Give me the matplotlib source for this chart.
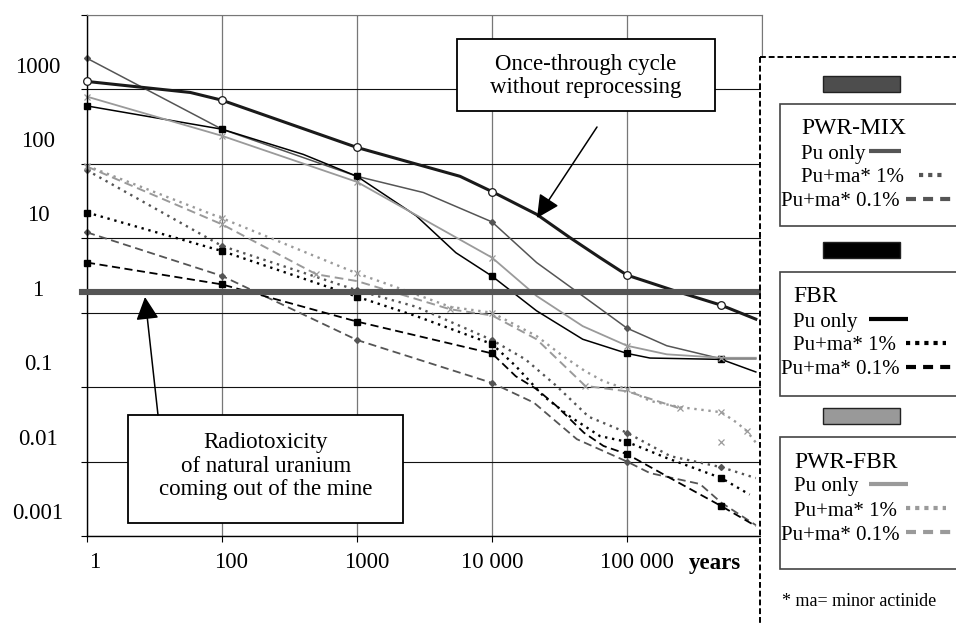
import numpy as np
import matplotlib
matplotlib.use("Agg")
import matplotlib.pyplot as plt
from matplotlib.patches import Rectangle
from matplotlib.ticker import NullLocator
from matplotlib.transforms import blended_transform_factory, offset_copy

plt.rcParams['font.family'] = ['Liberation Serif', 'DejaVu Serif']

# ---- data (relative radiotoxicity vs. years) ----
main_years = [1, 100, 1000, 10000, 100000, 500000]

once_t = [1, 34, 100, 1000, 5800, 10000, 21400, 37800, 63000, 100000, 220000, 500000, 900000]
once_v = [640, 455, 358, 83, 34, 21.2, 10.5, 5.1, 2.75, 1.6, 1.0, 0.63, 0.41]

mix_pu_t = [1, 100, 1000, 3100, 10000, 21400, 47000, 100000, 197000, 500000, 900000]
mix_pu_v = [1310, 146, 34, 20.6, 8.3, 2.36, 0.84, 0.31, 0.18, 0.12, 0.12]
mix_1_t = [1, 100, 1000, 2750, 10000, 17700, 30000, 52000, 100000, 210000, 500000, 900000]
mix_1_v = [41, 3.94, 1.0, 0.6, 0.215, 0.118, 0.052, 0.020, 0.0122, 0.0059, 0.0042, 0.003]
mix_01_t = [1, 100, 1000, 10000, 20400, 42500, 100000, 148000, 347000, 500000, 900000]
mix_01_v = [6.0, 1.56, 0.215, 0.057, 0.031, 0.010, 0.005, 0.0035, 0.0025, 0.0014, 0.0007]

fbr_pu_t = [1, 100, 400, 1000, 2750, 5400, 10000, 21400, 47000, 100000, 148000, 500000, 900000]
fbr_pu_v = [300, 146, 67, 34, 10, 3.2, 1.55, 0.53, 0.22, 0.142, 0.123, 0.118, 0.080]
fbr_1_t = [1, 100, 1000, 2750, 10000, 15000, 24000, 38000, 63000, 100000, 196000, 500000, 810000]
fbr_1_v = [11.1, 3.37, 0.82, 0.45, 0.19, 0.096, 0.038, 0.020, 0.011, 0.0092, 0.0056, 0.003, 0.0018]
fbr_01_t = [1, 100, 1000, 10000, 15000, 21400, 30000, 48000, 67000, 100000, 196000, 500000, 900000]
fbr_01_v = [2.36, 1.2, 0.38, 0.142, 0.070, 0.047, 0.028, 0.0122, 0.0081, 0.0063, 0.0032, 0.00126, 0.00068]

pf_pu_t = [1, 100, 1000, 10000, 21400, 47000, 100000, 197000, 500000, 900000]
pf_pu_v = [400, 119, 28.6, 2.75, 0.84, 0.33, 0.18, 0.138, 0.124, 0.124]
pf_1_t = [1, 100, 1000, 2100, 4900, 10000, 21400, 33500, 49000, 67000, 100000,
          148000, 245000, 500000, 650000, 770000, 900000]
pf_1_v = [47, 9.3, 1.69, 1.05, 0.60, 0.50, 0.243, 0.131, 0.082, 0.060, 0.047,
          0.0326, 0.027, 0.023, 0.0167, 0.0129, 0.009]
pf_1_marks = [1, 100, 1000, 10000, 100000, 500000, 770000]
pf_01_t = [1, 100, 500, 1000, 4900, 10000, 21400, 49000, 100000, 245000]
pf_01_v = [46, 7.7, 1.64, 1.33, 0.556, 0.46, 0.22, 0.052, 0.044, 0.026]
pf_01_marks = [1, 100, 500, 4900, 49000, 245000]
pf_01_extra_t = [500000]
pf_01_extra_v = [0.0092]

uranium_level = 0.95

x_ticks = [1, 100, 1000, 10000, 100000]
x_labels = ['1', '100', '1000', '10 000', '100 000']
y_labels_at = [1000, 100, 10, 1, 0.1, 0.01, 0.001]
y_labels = ['1000', '100', '10', '1', '0.1', '0.01', '0.001']

MIX = '#555555'
FBR = '#000000'
PF = '#9a9a9a'


# x axis: 1..100 squeezed into one grid cell, then one cell per decade
def fwd(t):
    lt = np.log10(np.clip(np.asarray(t, dtype=float), 1e-12, None))
    return np.where(lt < 2, lt / 2, lt - 1)


def inv(p):
    p = np.asarray(p, dtype=float)
    return np.where(p < 1, 10 ** (2 * p), 10 ** (p + 1))


def marks(ts, wanted):
    return [i for i, t in enumerate(ts) if t in wanted]


fig = plt.figure(figsize=(9.56, 6.24), dpi=100)
ax = fig.add_axes([87 / 956, 88 / 624, 675 / 956, 521 / 624])
ax.set_xscale('function', functions=(fwd, inv))
ax.set_yscale('log')
ax.set_xlim(1, 1e6)
ax.set_ylim(5e-4, 5e3)

ax.set_xticks(x_ticks + [1e6])
ax.set_yticks([5 * 10.0 ** k for k in range(-4, 4)])
ax.xaxis.set_minor_locator(NullLocator())
ax.yaxis.set_minor_locator(NullLocator())
ax.tick_params(labelbottom=False, labelleft=False, direction='out', length=4, width=0.8)
ax.grid(axis='x', color='#777777', lw=0.9)
ax.grid(axis='y', color='#111111', lw=0.8)
ax.set_axisbelow(True)
for s in ['top', 'right']:
    ax.spines[s].set_color('#777777')
ax.spines['left'].set_linewidth(1.0)
ax.spines['bottom'].set_linewidth(1.0)

dot = (0, (1, 2))
dash = (0, (4.5, 2.5))

ax.plot(once_t, once_v, color='#1a1a1a', lw=2.2, marker='o', ms=5.5, mfc='white',
        mec='#1a1a1a', mew=0.9, markevery=marks(once_t, main_years), clip_on=False, zorder=4)

ax.plot(mix_pu_t, mix_pu_v, color=MIX, lw=1.1, marker='D', ms=3,
        markevery=marks(mix_pu_t, main_years), clip_on=False)
ax.plot(mix_1_t, mix_1_v, color=MIX, lw=1.7, ls=dot, marker='D', ms=3,
        markevery=marks(mix_1_t, main_years), clip_on=False)
ax.plot(mix_01_t, mix_01_v, color=MIX, lw=1.3, ls=dash, marker='D', ms=3,
        markevery=marks(mix_01_t, main_years[:5]), clip_on=False)

ax.plot(fbr_pu_t, fbr_pu_v, color=FBR, lw=1.1, marker='s', ms=5,
        markevery=marks(fbr_pu_t, main_years), clip_on=False)
ax.plot(fbr_1_t, fbr_1_v, color=FBR, lw=1.7, ls=dot, marker='s', ms=5,
        markevery=marks(fbr_1_t, main_years), clip_on=False)
ax.plot(fbr_01_t, fbr_01_v, color=FBR, lw=1.3, ls=dash, marker='s', ms=5,
        markevery=marks(fbr_01_t, main_years), clip_on=False)

ax.plot(pf_pu_t, pf_pu_v, color=PF, lw=1.3, marker='x', ms=5, mew=0.9,
        markevery=marks(pf_pu_t, main_years), clip_on=False)
ax.plot(pf_1_t, pf_1_v, color=PF, lw=1.7, ls=dot, marker='x', ms=5, mew=0.9,
        markevery=marks(pf_1_t, pf_1_marks), clip_on=False)
ax.plot(pf_01_t, pf_01_v, color=PF, lw=1.4, ls=dash, marker='x', ms=5, mew=0.9,
        markevery=marks(pf_01_t, pf_01_marks), clip_on=False)
ax.plot(pf_01_extra_t, pf_01_extra_v, ls='none', color=PF, marker='x', ms=5, mew=0.9)

ax.axhline(uranium_level, xmin=-0.008, xmax=1, color='#555555', lw=4.4,
           clip_on=False, zorder=5)

# axis labels
ty = blended_transform_factory(ax.transAxes, ax.transData)
for v, lab in zip(y_labels_at, y_labels):
    ax.text(-49 / 675, v, lab, transform=ty, ha='center', va='center', fontsize=16.5)

tx = blended_transform_factory(ax.transData, ax.transAxes)
x_shift = [8, 9, 10, 0, 10]
for t, lab, dx in zip(x_ticks, x_labels, x_shift):
    ax.text(t, -27 / 521, lab, transform=offset_copy(tx, fig=fig, x=dx, units='dots'),
            ha='center', va='center', fontsize=16.5)
ax.text((715 - 87) / 675, -27 / 521, 'years', transform=ax.transAxes, ha='center',
        va='center', fontsize=16.5, fontweight='bold')

# ---- overlay in pixel coordinates: call-outs and legend panel ----
lay = fig.add_axes([0, 0, 1, 1], zorder=10)
lay.set_xlim(0, 956)
lay.set_ylim(624, 0)
lay.axis('off')

head = '-|>,head_length=0.7,head_width=0.35'

lay.add_patch(Rectangle((457, 39), 258, 72, fc='white', ec='black', lw=1.3))
lay.text(586, 76, 'Once-through cycle\nwithout reprocessing', ha='center', va='center',
         fontsize=16.5, linespacing=1.1)
lay.annotate('', xy=(537, 218), xytext=(597, 127),
             arrowprops=dict(arrowstyle=head, mutation_scale=20, color='black', lw=1.1,
                             shrinkA=0, shrinkB=0))

lay.add_patch(Rectangle((128, 415), 275, 108, fc='white', ec='black', lw=1.3))
lay.text(266, 466, 'Radiotoxicity\nof natural uranium\ncoming out of the mine',
         ha='center', va='center', fontsize=16.5, linespacing=1.15)
lay.annotate('', xy=(145, 297), xytext=(158, 415),
             arrowprops=dict(arrowstyle=head, mutation_scale=20, color='black', lw=1.1,
                             shrinkA=0, shrinkB=0))

# dashed legend panel
lay.add_patch(Rectangle((761, 58), 200, 570, fc='white', ec='none'))
lay.plot([760, 760], [57, 624], color='black', lw=1.4, dashes=(3, 1.5))
lay.plot([760, 956], [57, 57], color='black', lw=1.4, dashes=(3, 1.5))

groups = [
    ('PWR-MIX', MIX, '#4d4d4d', 76, 104, 122, 801),
    ('FBR', FBR, '#000000', 242, 272, 124, 793),
    ('PWR-FBR', PF, '#999999', 408, 437, 132, 794),
]
for name, col, swatch, sy, by, bh, tx0 in groups:
    lay.add_patch(Rectangle((823, sy), 77, 16, fc=swatch, ec='#222222', lw=1))
    lay.add_patch(Rectangle((780, by), 190, bh, fc='white', ec='#444444', lw=1.2))
    lay.text(tx0, by + 25, name, ha='left', va='center', fontsize=17)
    lay.text(tx0, by + 50, 'Pu only', ha='left', va='center', fontsize=15)
    lay.text(tx0, by + 74, 'Pu+ma* 1%', ha='left', va='center', fontsize=15)
    lay.text(781, by + 98, 'Pu+ma* 0.1%', ha='left', va='center', fontsize=15)
    solid_x0 = 869
    solid_x1 = 901 if name == 'PWR-MIX' else 908
    dot_x0 = 919 if name == 'PWR-MIX' else 906
    lay.plot([solid_x0, solid_x1], [by + 47, by + 47], color=col, lw=3, solid_capstyle='butt')
    lay.plot([dot_x0, 946], [by + 71, by + 71], color=col, lw=3, dashes=(1, 1.2))
    lay.plot([906, 960], [by + 95, by + 95], color=col, lw=3, dashes=(2.4, 1.7))

lay.text(782, 602, '* ma= minor actinide', ha='left', va='center', fontsize=13)

fig.savefig('out.png', dpi=100)
